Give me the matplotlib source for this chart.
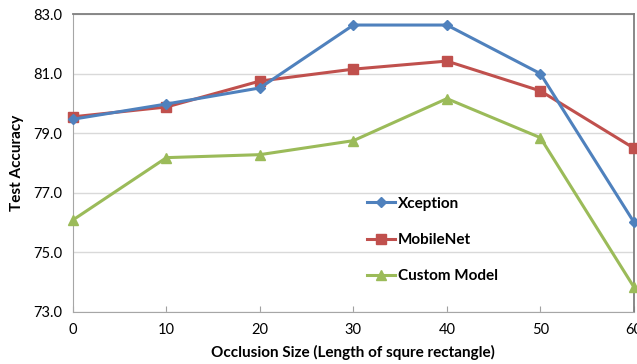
import numpy as np
import matplotlib.pyplot as plt

plt.rcParams['font.family'] = ['Lato', 'DejaVu Sans']

# occlusion size (length of square side)
occlusion = [0, 10, 20, 30, 40, 50, 60]

xception = [79.47, 79.98, 80.52, 82.63, 82.63, 81.00, 76.02]
mobilenet = [79.55, 79.88, 80.75, 81.15, 81.42, 80.42, 78.50]
custom = [76.09, 78.18, 78.28, 78.75, 80.16, 78.85, 73.84]

y_ticks = [73.0, 75.0, 77.0, 79.0, 81.0, 83.0]

fig = plt.figure(figsize=(6.37, 3.64), dpi=100)
ax = fig.add_axes([0.1146, 0.1429, 0.8804, 0.8186])

ax.plot(occlusion, xception, color='#4F81BD', marker='D', markersize=5.5, linewidth=2.2,
        label='Xception', clip_on=False, zorder=4)
ax.plot(occlusion, mobilenet, color='#C0504D', marker='s', markersize=7, linewidth=2.2,
        label='MobileNet', clip_on=False, zorder=3)
ax.plot(occlusion, custom, color='#9BBB59', marker='^', markersize=7, linewidth=2.2,
        label='Custom Model', clip_on=False, zorder=3)

ax.set_xlim(0, 60)
ax.set_ylim(73, 83)
ax.set_xticks(occlusion)
ax.set_yticks(y_ticks)
ax.set_yticklabels([f'{v:.1f}' for v in y_ticks])
ax.tick_params(axis='x', direction='in', length=4, color='#a0a0a0', labelsize=10.5, pad=8)
ax.tick_params(axis='y', length=0, labelsize=10.5, pad=8)

ax.grid(True, axis='y', color='#d9d9d9', linewidth=1)
ax.set_axisbelow(True)
for side in ['left', 'bottom']:
    ax.spines[side].set_color('#a6a6a6')
for side in ['top', 'right']:
    ax.spines[side].set_color('#7f7f7f')
    ax.spines[side].set_linewidth(1.3)

ax.set_xlabel('Occlusion Size (Length of squre rectangle)', fontsize=11, fontweight='bold', labelpad=6)
ax.set_ylabel('Test Accuracy', fontsize=11, fontweight='bold', labelpad=6)

leg = ax.legend(loc='center left', bbox_to_anchor=(0.524, 0.242), frameon=False,
                borderpad=0, borderaxespad=0, labelspacing=1.45, handlelength=1.85,
                handletextpad=0.2, prop={'weight': 'bold', 'size': 11})

fig.savefig('out.png', dpi=100)
